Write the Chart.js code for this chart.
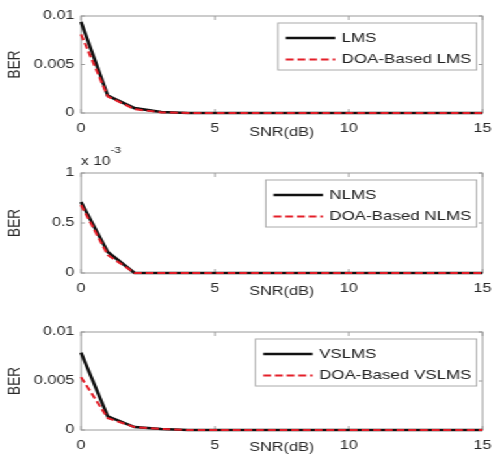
<!DOCTYPE html>
<html>
<head>
<meta charset="utf-8">
<script src="https://cdn.jsdelivr.net/npm/chart.js@4/dist/chart.umd.min.js"></script>
<style>
    body { margin: 0; background: #fff; }
    #figure { position: absolute; left: 0; top: 0; width: 386px; height: 455px; transform: scaleX(1.3005); transform-origin: 0 0; }
    .panel { position: absolute; left: 0; width: 386px; }
</style>
</head>
<body>
<div id="figure">
    <div class="panel" style="top:0;height:145px"><canvas id="berLms"></canvas></div>
    <div class="panel" style="top:145px;height:160px"><canvas id="berNlms"></canvas></div>
    <div class="panel" style="top:305px;height:150px"><canvas id="berVslms"></canvas></div>
</div>
<script>
// SNR axis (dB)
const snr = [0, 1, 2, 3, 4, 5, 6, 7, 8, 9, 10, 11, 12, 13, 14, 15];
const xTickLabels = ['0', '5', '10', '15'];

// BER values
const lms         = [0.0094, 0.0018, 0.0005, 0.0001, 0, 0, 0, 0, 0, 0, 0, 0, 0, 0, 0, 0];
const doaLms      = [0.0081, 0.0017, 0.0004, 0.00006, 0, 0, 0, 0, 0, 0, 0, 0, 0, 0, 0, 0];
const nlms        = [0.00071, 0.00021, 0, 0, 0, 0, 0, 0, 0, 0, 0, 0, 0, 0, 0, 0];
const doaNlms     = [0.00068, 0.00018, 0, 0, 0, 0, 0, 0, 0, 0, 0, 0, 0, 0, 0, 0];
const vslms       = [0.0079, 0.0014, 0.0003, 0.0001, 0, 0, 0, 0, 0, 0, 0, 0, 0, 0, 0, 0];
const doaVslms    = [0.0054, 0.0012, 0.0003, 0.0001, 0, 0, 0, 0, 0, 0, 0, 0, 0, 0, 0, 0];

const yTickLabelsWide = ['0', '0.005', '0.01'];
const yTickLabelsSmall = ['0', '0.5', '1'];

Chart.defaults.font.family = '"Liberation Sans", Arial, sans-serif';
Chart.defaults.font.size = 12.5;
Chart.defaults.color = '#2a2a2a';

// box round the plot area with inward ticks (matlab style)
const axesBox = {
    id: 'axesBox',
    beforeDatasetsDraw(chart) {
        const { ctx, chartArea: a, scales } = chart;
        ctx.save();
        ctx.strokeStyle = '#9a9a9a';
        ctx.lineWidth = 1;
        ctx.strokeRect(a.left, a.top, a.width, a.height);
        ctx.beginPath();
        scales.x.ticks.forEach(t => {
            const px = scales.x.getPixelForValue(t.value);
            ctx.moveTo(px, a.bottom); ctx.lineTo(px, a.bottom - 4);
            ctx.moveTo(px, a.top); ctx.lineTo(px, a.top + 4);
        });
        scales.y.ticks.forEach(t => {
            const py = scales.y.getPixelForValue(t.value);
            ctx.moveTo(a.left, py); ctx.lineTo(a.left + 3, py);
            ctx.moveTo(a.right, py); ctx.lineTo(a.right - 3, py);
        });
        ctx.stroke();
        ctx.restore();
    }
};

// legend drawn inside the axes, top right
const boxLegend = {
    id: 'boxLegend',
    afterDatasetsDraw(chart) {
        const { ctx, chartArea: a } = chart;
        const items = chart.data.datasets;
        ctx.save();
        ctx.font = '13px "Liberation Sans", Arial, sans-serif';
        const textW = Math.max(...items.map(d => ctx.measureText(d.label).width));
        const w = 6 + 38 + 5 + textW + 4;
        const h = 47;
        const x = a.right - 4.6 - w;
        const y = a.top + 7;
        ctx.fillStyle = '#fff';
        ctx.fillRect(x, y, w, h);
        ctx.strokeStyle = '#aaa';
        ctx.lineWidth = 1;
        ctx.strokeRect(x, y, w, h);
        items.forEach((d, i) => {
            const ly = y + 15 + i * 21.5;
            ctx.beginPath();
            ctx.setLineDash(d.borderDash || []);
            ctx.strokeStyle = d.borderColor;
            ctx.lineWidth = d.borderWidth;
            ctx.moveTo(x + 6, ly);
            ctx.lineTo(x + 44, ly);
            ctx.stroke();
            ctx.setLineDash([]);
            ctx.fillStyle = '#222';
            ctx.textBaseline = 'middle';
            ctx.fillText(d.label, x + 49, ly);
        });
        ctx.restore();
    }
};

// "x 10^-3" multiplier above the middle axes
const exponentLabel = {
    id: 'exponentLabel',
    afterDraw(chart) {
        const { ctx, chartArea: a } = chart;
        ctx.save();
        ctx.fillStyle = '#222';
        ctx.textBaseline = 'alphabetic';
        ctx.font = '12px "Liberation Sans", Arial, sans-serif';
        ctx.fillText('x 10', a.left, a.top - 8);
        const w = ctx.measureText('x 10').width;
        ctx.font = '9px "Liberation Sans", Arial, sans-serif';
        ctx.fillText('-3', a.left + w, a.top - 20);
        ctx.restore();
    }
};

function makePanel(id, label, series, doaSeries, yMax, yStep, yLabels, topPad, axisH, titleDy, extra) {
    const ctx = document.getElementById(id).getContext('2d');
    return new Chart(ctx, {
        type: 'line',
        data: {
            labels: snr,
            datasets: [
                {
                    label: label,
                    data: snr.map((s, i) => ({ x: s, y: series[i] })),
                    borderColor: '#111',
                    borderWidth: 2.6,
                    pointRadius: 0,
                    tension: 0,
                    clip: false,
                    order: 1
                },
                {
                    label: 'DOA-Based ' + label,
                    data: snr.map((s, i) => ({ x: s, y: doaSeries[i] })),
                    borderColor: 'rgb(228, 30, 40)',
                    borderWidth: 2,
                    borderDash: [6, 3],
                    pointRadius: 0,
                    tension: 0,
                    clip: false,
                    order: 0
                }
            ]
        },
        options: {
            responsive: true,
            maintainAspectRatio: false,
            animation: false,
            layout: { padding: { top: topPad, right: 7.7, left: 0, bottom: 0 } },
            plugins: {
                legend: { display: false },
                tooltip: { enabled: false }
            },
            scales: {
                x: {
                    type: 'linear',
                    min: 0,
                    max: 15,
                    grid: { display: false, drawTicks: false },
                    border: { display: false },
                    ticks: {
                        stepSize: 5,
                        padding: 8,
                        maxRotation: 0,
                        callback: (value, index) => xTickLabels[index]
                    },
                    title: {
                        display: true,
                        text: 'SNR(dB)',
                        font: { size: 12.5 },
                        padding: { top: 0, bottom: axisH - titleDy - 7.5 }
                    },
                    afterFit: scale => { scale.height = axisH; }
                },
                y: {
                    min: 0,
                    max: yMax,
                    grid: { display: false, drawTicks: false },
                    border: { display: false },
                    ticks: {
                        stepSize: yStep,
                        padding: 5,
                        callback: (value, index) => yLabels[index]
                    },
                    title: {
                        display: true,
                        text: 'BER',
                        font: { size: 13.5 },
                        padding: { top: 3, bottom: 0 }
                    },
                    afterFit: scale => { scale.width = 62.3; }
                }
            }
        },
        plugins: [axesBox, boxLegend].concat(extra || [])
    });
}

makePanel('berLms', 'LMS', lms, doaLms, 0.01, 0.005, yTickLabelsWide, 16, 32, 20);
makePanel('berNlms', 'NLMS', nlms, doaNlms, 0.001, 0.0005, yTickLabelsSmall, 28, 32, 19, [exponentLabel]);
makePanel('berVslms', 'VSLMS', vslms, doaVslms, 0.01, 0.005, yTickLabelsWide, 27, 25, 18);
</script>
</body>
</html>
